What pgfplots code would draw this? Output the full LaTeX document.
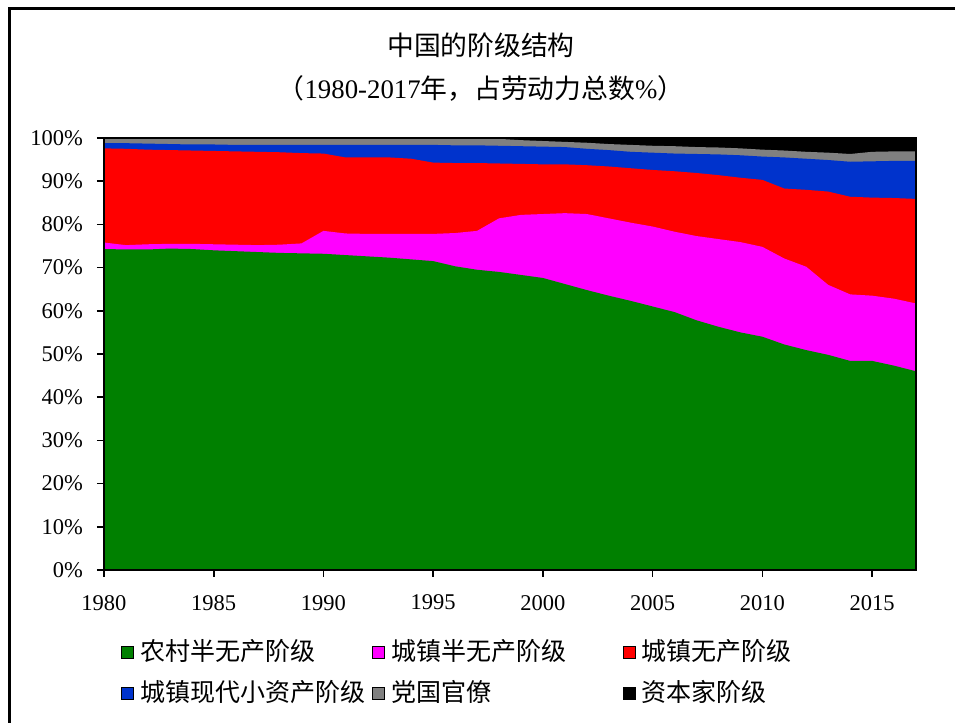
\documentclass[border=0pt]{standalone}
\usepackage{fontspec}
\setmainfont{Liberation Serif}
\newfontfamily\cjk{Noto Sans CJK SC}
\usepackage{pgfplots}
\usepackage{pgfplotstable}
\pgfplotsset{compat=1.18}

\definecolor{cRural}{RGB}{0,128,0}
\definecolor{cSemi}{RGB}{255,0,255}
\definecolor{cProl}{RGB}{255,0,0}
\definecolor{cPetty}{RGB}{0,51,204}
\definecolor{cCadre}{RGB}{128,128,128}
\definecolor{cCap}{RGB}{0,0,0}

% cumulative shares (top edge of each layer), % of labour force
\pgfplotstableread{
year G M R B Y T
1980 74.3 75.8 97.6 98.8 100 100
1981 74.2 75.2 97.5 98.8 100 100
1982 74.2 75.4 97.3 98.7 100 100
1983 74.4 75.5 97.2 98.6 100 100
1984 74.3 75.5 97.1 98.5 100 100
1985 74.0 75.4 97.0 98.5 100 100
1986 73.8 75.3 96.9 98.4 100 100
1987 73.6 75.2 96.8 98.4 100 100
1988 73.4 75.3 96.7 98.4 100 100
1989 73.3 75.6 96.5 98.4 100 100
1990 73.2 78.5 96.4 98.4 100 100
1991 72.9 77.9 95.5 98.4 100 100
1992 72.6 77.8 95.5 98.4 100 100
1993 72.3 77.8 95.5 98.4 100 100
1994 71.9 77.8 95.2 98.4 100 100
1995 71.5 77.8 94.3 98.4 100 100
1996 70.3 78.0 94.2 98.3 100 100
1997 69.5 78.5 94.2 98.3 100 100
1998 69.0 81.4 94.1 98.2 99.8 100
1999 68.3 82.2 94.0 98.1 99.5 100
2000 67.6 82.4 93.9 98.0 99.3 100
2001 66.2 82.6 93.9 97.9 99.1 100
2002 64.8 82.4 93.7 97.5 98.9 100
2003 63.5 81.4 93.4 97.2 98.6 100
2004 62.3 80.4 93.0 96.8 98.4 100
2005 61.0 79.5 92.6 96.6 98.2 100
2006 59.7 78.3 92.3 96.4 98.1 100
2007 57.8 77.3 91.9 96.3 97.9 100
2008 56.3 76.6 91.4 96.2 97.8 100
2009 55.0 75.9 90.8 96.0 97.6 100
2010 54.0 74.8 90.3 95.7 97.3 100
2011 52.2 72.1 88.3 95.5 97.1 100
2012 50.9 70.2 88.0 95.2 96.8 100
2013 49.8 66.0 87.6 94.9 96.6 100
2014 48.4 63.8 86.4 94.5 96.3 100
2015 48.4 63.5 86.2 94.6 96.8 100
2016 47.3 62.8 86.1 94.7 96.9 100
2017 46.0 61.7 85.9 94.7 96.9 100
}\classdata

\newcommand{\entry}[1]{\makebox[116pt][l]{\cjk #1}}

\begin{document}
\begin{tikzpicture}
\useasboundingbox (0,0) rectangle (477.5pt,361.5pt);
\draw[line width=1.5pt] (4.5pt,-2pt) -- (4.5pt,357pt) -- (480pt,357pt);

\node[font=\fontsize{13.4}{16}\selectfont] at (240.5pt,339pt) {\cjk 中国的阶级结构};
\node[font=\fontsize{13.4}{16}\selectfont] at (240.5pt,317.5pt)
  {{\cjk （}1980-2017{\cjk 年，占劳动力总数}\%{\cjk ）}};

\begin{axis}[
  at={(52pt,76.5pt)}, anchor=south west,
  scale only axis, width=406pt, height=216pt,
  xmin=1980, xmax=2017, ymin=0, ymax=100,
  xtick={1980,1985,...,2015},
  ytick={0,10,...,100},
  xticklabel style={/pgf/number format/1000 sep={}, yshift=-5.5pt},
  yticklabel style={xshift=-3.5pt},
  yticklabel={\pgfmathprintnumber{\tick}\%},
  /pgf/number format/assume math mode=true,
  tick label style={font=\fontsize{11.25}{13}\selectfont},
  tick align=outside, xtick pos=left, ytick pos=left,
  major tick length=3.5pt,
  every tick/.style={black, line width=0.8pt},
  axis line style={line width=0.8pt},
  axis on top,
  legend image code/.code={\fill[#1] (0pt,-3pt) rectangle (6pt,3pt);},
  legend columns=3,
  legend cell align=left,
  legend style={draw=none, fill=none, inner sep=0pt,
    at={(0.021,-0.162)}, anchor=north west,
    font=\fontsize{12.5}{15}\selectfont,
    nodes={inner xsep=0pt, inner ysep=0pt, text height=10pt, text depth=2.5pt},
    row sep=8pt,
    /tikz/every odd column/.style={column sep=3pt}},
]
\addplot[fill=cCap, draw=none, forget plot] table[x=year,y=T]{\classdata} \closedcycle;
\addplot[fill=cCadre, draw=none, forget plot] table[x=year,y=Y]{\classdata} \closedcycle;
\addplot[fill=cPetty, draw=none, forget plot] table[x=year,y=B]{\classdata} \closedcycle;
\addplot[fill=cProl, draw=none, forget plot] table[x=year,y=R]{\classdata} \closedcycle;
\addplot[fill=cSemi, draw=none, forget plot] table[x=year,y=M]{\classdata} \closedcycle;
\addplot[fill=cRural, draw=none, forget plot] table[x=year,y=G]{\classdata} \closedcycle;

\addlegendimage{fill=cRural}  \addlegendentry{\entry{农村半无产阶级}}
\addlegendimage{fill=cSemi}   \addlegendentry{\entry{城镇半无产阶级}}
\addlegendimage{fill=cProl}   \addlegendentry{\entry{城镇无产阶级}}
\addlegendimage{fill=cPetty}  \addlegendentry{\entry{城镇现代小资产阶级}}
\addlegendimage{fill=cCadre}  \addlegendentry{\entry{党国官僚}}
\addlegendimage{fill=cCap}    \addlegendentry{\entry{资本家阶级}}
\end{axis}
\end{tikzpicture}
\end{document}
